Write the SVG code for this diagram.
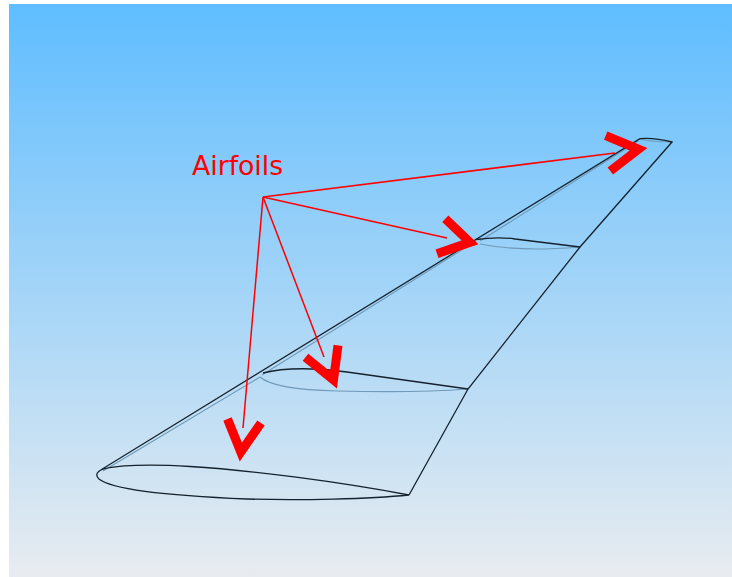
<svg xmlns="http://www.w3.org/2000/svg" width="732" height="577" viewBox="0 0 732 577">
<defs>
<linearGradient id="sky" x1="0" y1="0" x2="0" y2="1">
<stop offset="0" stop-color="#5fbdff"/>
<stop offset="1" stop-color="#e8ecf0"/>
</linearGradient>
</defs>
<style>
.edge{fill:none;stroke:#14222e;stroke-width:1.3}
.faint{fill:none;stroke:#6f9ab8;stroke-width:1.1}
.lead{fill:none;stroke:#ff0000;stroke-width:1.5}
.chev{fill:none;stroke:#ff0000;stroke-width:9;stroke-linejoin:miter;stroke-miterlimit:10}
.label{font-family:"DejaVu Sans",Verdana,sans-serif;font-size:26.7px;fill:#ff0000}
</style>
<rect x="0" y="0" width="732" height="577" fill="#ffffff"/>
<rect x="9" y="4" width="723" height="573" fill="url(#sky)"/>
<g id="wing">
<path class="faint" d="M103 471 L260 377 M260 377 C268 384 290 390 337 391 C380 392 430 392 468 389 M262 375 L476 241 M480 244 C495 247 515 249 537 249 C552 249 566 248 580 247 M480 241 L638 141 M640 139 C650 142 660 142 672 142"/>
<path class="edge" d="M101.500 469.500 L640 138.700 C650 137.500 660 139 672 142 L580 247 L468 389 L409 495"/>
<path id="root-airfoil" class="edge" d="M102 469.500 C96 472 95.500 476 99 479 C110 488 150 495 247 499 C300 500.500 370 499 409 495 C340 482 250 470 190 466.500 C150 464 115 465 102 469.500Z"/>
<path id="mid-airfoil" class="edge" d="M263 373 C285 367 320 368 347 372 L468 389"/>
<path id="outer-airfoil" class="edge" d="M476 239.500 C490 237.500 505 237.500 515 239 L580 247"/>
</g>
<g id="connectors">
<line class="lead" x1="263" y1="197" x2="243" y2="428"/>
<line class="lead" x1="263" y1="197" x2="324" y2="357"/>
<line class="lead" x1="263" y1="197" x2="447" y2="238"/>
<line class="lead" x1="263" y1="197" x2="615" y2="153"/>
</g>
<g id="arrow-root"><polyline class="chev" points="227.500,419 240.800,452 261,423"/></g>
<g id="arrow-mid"><polyline class="chev" points="305.500,357.300 333.500,380 338,345.300"/></g>
<g id="arrow-outer"><polyline class="chev" points="445.300,218.800 470,242.300 437,253.700"/></g>
<g id="arrow-tip"><polyline class="chev" points="605.700,135.700 638.500,149.300 610.300,171"/></g>
<g id="label-airfoils"><text class="label" x="192" y="175">Airfoils</text></g>
</svg>
